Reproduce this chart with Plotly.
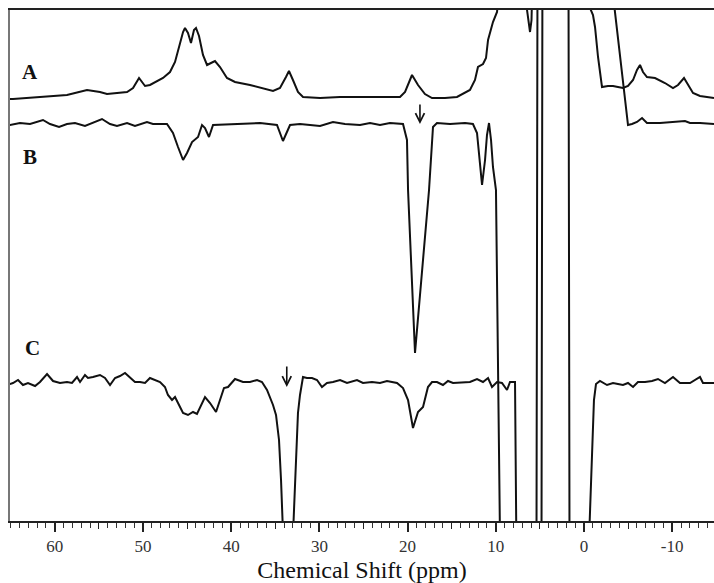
import plotly.graph_objects as go

# Chemical shift (ppm) and intensity (arbitrary units, relative to each baseline)
ppm_a = [65.1, 64.74, 61.68, 58.62, 56.35, 54.88, 54.08, 51.81, 51.13, 50.45, 49.77, 49.21,
         47.73, 46.94, 46.37, 45.80, 45.46, 45.24, 44.90, 44.56, 44.22, 43.99, 43.65, 43.20,
         42.74, 42.29, 41.84, 41.27, 40.48, 39.57, 37.87, 35.26, 34.47, 33.79, 33.45, 33.00,
         32.43, 31.86, 29.93, 27.66, 25.40, 23.13, 20.86, 20.29, 19.50, 18.82, 18.03, 17.23,
         15.76, 14.40, 13.49, 12.93, 12.36, 12.02, 11.45, 11.11, 10.88, 10.54, 10.32, 9.86,
         9.64, 6.80, 6.46, 6.12, 5.95, 5.90, 5.78, -0.45, -0.68, -1.02, -1.25, -1.59, -1.81,
         -2.04, -2.72, -3.29, -3.85, -4.42, -4.99, -5.56, -6.01, -6.35, -6.69, -7.14, -8.05,
         -9.18, -10.09, -10.66, -11.34, -11.79, -12.36, -13.15, -14.74]
int_a = [-2, -2, 0, 2, 7, 5, 3, 5, 9, 19, 11, 12,
         19, 25, 35, 54, 65, 69, 64, 54, 67, 69, 61, 42,
         32, 34, 36, 30, 19, 15, 12, 6, 9, 20, 26, 17,
         5, 0, -1, 0, 0, 0, 0, 5, 22, 12, 3, -1,
         -1, 0, 4, 7, 17, 30, 33, 39, 57, 69, 75, 85,
         107, 127, 87, 65, 77, 97, 127, 127, 89, 82, 70, 40, 22,
         10, 11, 11, 10, 9, 11, 17, 27, 32, 25, 20, 19,
         14, 9, 12, 19, 12, 4, 1, -1]

ppm_b = [65.1, 63.95, 62.81, 61.34, 60.54, 59.52, 58.62, 57.71, 56.58, 55.67, 54.65, 53.74,
         52.95, 51.81, 50.91, 49.55, 48.87, 47.28, 46.60, 46.03, 45.46, 45.01, 44.44, 43.76,
         43.31, 42.97, 42.52, 42.06, 39.80, 36.73, 34.81, 34.13, 33.33, 32.20, 29.93, 28.46,
         27.10, 25.40, 24.26, 23.13, 22.00, 20.52, 20.07, 19.95, 19.16, 17.57, 17.12, 16.67,
         15.19, 13.49, 12.59, 12.13, 11.56, 11.22, 11.00, 10.77, 10.54, 10.32, 9.98, 9.52,
         5.39, 5.27, -3.29, -4.99, -5.44, -6.01, -6.58, -7.14, -8.62, -10.09, -11.45, -12.02,
         -13.15, -14.74]
int_b = [-1, 1, 0, 4, 0, -3, 0, 1, -2, 1, 5, 0,
         -2, 1, -2, 2, 0, 0, -9, -23, -36, -29, -18, -13,
         -1, -4, -13, -1, 0, 1, -1, -17, -1, 0, -2, 2,
         0, -1, 1, -1, 1, 0, -16, -66, -229, -66, -3, 1,
         0, 1, 0, -9, -61, -36, -11, 1, -16, -43, -66, -416,
         -436, 164, 129, -1, 0, 2, 6, 1, 1, 2, 3, 1,
         1, 0]

ppm_c = [65.1, 64.74, 64.17, 63.61, 63.04, 62.24, 61.68, 60.88, 60.20, 59.41, 58.62, 58.05,
         57.48, 57.14, 56.58, 56.24, 55.67, 54.88, 54.31, 53.74, 53.17, 52.61, 52.04, 51.47,
         50.91, 50.34, 49.77, 49.21, 48.07, 47.51, 47.17, 46.71, 46.37, 46.03, 45.46, 44.90,
         44.33, 43.88, 43.54, 42.97, 42.40, 41.72, 41.27, 40.82, 40.36, 39.57, 38.66, 37.87,
         37.07, 36.51, 35.94, 35.26, 34.92, 34.58, 34.35, 34.01, 33.11, 32.43, 32.20, 31.97,
         31.86, 31.41, 30.84, 30.27, 29.71, 29.14, 28.46, 27.66, 26.87, 25.74, 25.06, 24.04,
         23.13, 22.34, 21.20, 20.52, 19.95, 19.39, 18.82, 18.25, 17.69, 17.23, 16.67, 15.99,
         15.42, 14.85, 13.72, 12.93, 12.13, 11.45, 10.88, 10.43, 9.86, 9.30, 8.73, 8.39,
         7.82, 7.65, 4.82, 4.71, 1.76, 1.64, -0.57, -1.13, -1.36, -1.81, -2.61, -3.29,
         -3.85, -4.42, -4.99, -5.56, -6.12, -6.92, -7.71, -8.39, -9.18, -10.09, -10.88, -12.02,
         -13.15, -13.49, -14.74]
int_c = [-2, -1, 2, -3, -1, -4, 0, 8, 1, -1, 0, -1,
         5, 0, 7, 4, 5, 7, 4, -3, 4, 6, 9, 4,
         0, 0, -1, 4, 0, -5, -13, -18, -15, -21, -31, -33,
         -30, -32, -25, -15, -21, -30, -18, -6, -5, 3, 0, 0,
         2, 0, -8, -23, -33, -58, -98, -178, -178, -31, -13, -3,
         5, 4, 4, 2, -5, -1, 0, 2, -1, 2, -1, 0,
         -1, 1, -1, -6, -18, -46, -30, -25, -5, 0, 0, -3,
         1, -1, 0, 0, 3, 0, 4, -5, 0, -1, -8, 0,
         0, -178, -178, 422, 422, -178, -158, -18, -2, 1, -3, -1,
         -2, -3, -1, -5, 0, 0, 1, 3, -1, 5, -1, -1,
         5, -1, -1]

# Vertical baseline of each stacked spectrum
offsets = {"A": 424, "B": 397, "C": 139}
label_pos = {"A": (62.8, 449), "B": (62.8, 364), "C": (62.5, 173)}

# Arrows marking the irradiated resonances: (ppm, tail, tip)
arrows = [(18.6, 418, 397), (33.7, 156, 134)]

major_ticks = [60, 50, 40, 30, 20, 10, 0, -10]
mid_ticks = [55, 45, 35, 25, 15, 5, -5]

serif = "Liberation Serif, Times New Roman, serif"
ink = "#111111"

fig = go.Figure()
for name, xs, ys in (("A", ppm_a, int_a), ("B", ppm_b, int_b), ("C", ppm_c, int_c)):
    fig.add_trace(go.Scatter(
        x=xs, y=[v + offsets[name] for v in ys], mode="lines", name=name,
        line=dict(color=ink, width=2), hoverinfo="skip", showlegend=False))

# Empty trace that carries the 5-ppm tick axis
fig.add_trace(go.Scatter(x=[], y=[], xaxis="x2", showlegend=False, hoverinfo="skip"))

for name, (px, py) in label_pos.items():
    fig.add_annotation(x=px, y=py, text=f"<b>{name}</b>", showarrow=False,
                       font=dict(family=serif, size=21, color=ink))

for ax_ppm, tail, tip in arrows:
    fig.add_annotation(x=ax_ppm, y=tip, ax=ax_ppm, ay=tail, axref="x", ayref="y",
                       xref="x", yref="y", text="", showarrow=True,
                       arrowhead=5, arrowsize=1.1, arrowwidth=1.6, arrowcolor=ink)

xrange = [65.08, -14.74]
fig.update_layout(
    width=714, height=583,
    margin=dict(l=10, r=0, t=10, b=62),
    paper_bgcolor="white", plot_bgcolor="white",
    xaxis=dict(
        range=xrange, showgrid=False, zeroline=False,
        showline=True, linecolor="#222", linewidth=2, mirror=True,
        tickvals=major_ticks, ticktext=[str(t) for t in major_ticks],
        ticks="outside", ticklen=9, tickwidth=1.5, tickcolor="#222",
        minor=dict(dtick=1, tick0=0, ticks="outside", ticklen=5, tickwidth=1.2, tickcolor="#333"),
        tickfont=dict(family=serif, size=17, color="#333"),
        title=dict(text="Chemical Shift (ppm)", standoff=8,
                   font=dict(family=serif, size=24, color="#111")),
    ),
    xaxis2=dict(
        range=xrange, overlaying="x", anchor="y", side="bottom",
        showgrid=False, zeroline=False, showline=False,
        tickvals=mid_ticks, showticklabels=False,
        ticks="outside", ticklen=7, tickwidth=1.3, tickcolor="#222",
    ),
    yaxis=dict(
        range=[0, 511], showgrid=False, zeroline=False,
        showline=True, linecolor="#777", linewidth=1.5,
        showticklabels=False, ticks="",
    ),
)

fig.write_html("out.html")
